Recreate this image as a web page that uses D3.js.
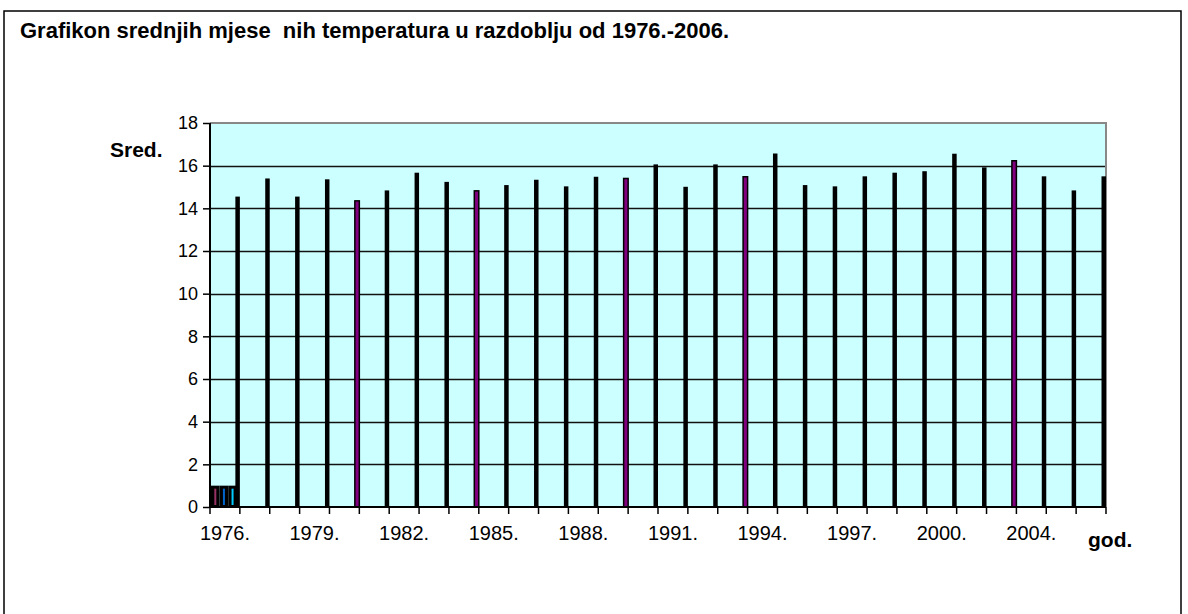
<!DOCTYPE html>
<html>
<head>
<meta charset="utf-8">
<script src="https://cdn.jsdelivr.net/npm/d3@7"></script>
<style>
  html, body { margin: 0; padding: 0; background: #fff; }
  svg { display: block; font-family: "Liberation Sans", Arial, sans-serif; }
</style>
</head>
<body>
<svg id="chart" width="1188" height="614"></svg>
<script>
// ---- data ----
const years = ["1976","1977","1978","1979","1980","1981","1982","1983","1984","1985",
               "1986","1987","1988","1989","1990","1991","1992","1993","1994","1995",
               "1996","1997","1998","1999","2000","2002","2003","2004","2005","2006"];
const meanTemps = [14.55, 15.4, 14.55, 15.36, 14.35, 14.84, 15.67, 15.24, 14.82, 15.09,
                   15.34, 15.03, 15.48, 15.4, 16.06, 15.01, 16.06, 15.48, 16.57, 15.09,
                   15.03, 15.5, 15.67, 15.74, 16.56, 15.92, 16.23, 15.5, 14.84, 15.5];
const highlightYears = ["1980","1984","1989","1993","2003"];
const firstGroupValues = [1, 1, 1];
const firstGroupColors = ["#993366", "#0066cc", "#00ccff"];
const yTicks = [0, 2, 4, 6, 8, 10, 12, 14, 16, 18];
const xLabelYears = ["1976","1979","1982","1985","1988","1991","1994","1997","2000","2004"];
const titleText = "Grafikon srednjih mjese  nih temperatura u razdoblju od 1976.-2006.";

// ---- layout ----
const svg = d3.select("#chart");
const pLeft = 210, pRight = 1106, pTop = 123, pBottom = 507;

// outer border
svg.append("rect").attr("x", 4).attr("y", 11).attr("width", 1177).attr("height", 640)
  .attr("fill", "#fff").attr("stroke", "#000").attr("stroke-width", 1.5);

svg.append("text").attr("x", 20).attr("y", 38)
  .attr("font-size", 22).attr("font-weight", "bold")
  .style("white-space", "pre").attr("xml:space", "preserve")
  .text(titleText);

const x = d3.scaleBand().domain(years).range([pLeft, pRight]).padding(0);
const y = d3.scaleLinear().domain([0, 18]).range([pBottom, pTop]);

// plot background
svg.append("rect").attr("x", pLeft).attr("y", pTop).attr("width", pRight - pLeft).attr("height", pBottom - pTop)
  .attr("fill", "#ccffff");

// gridlines
svg.append("g").selectAll("line").data(yTicks.filter(d => d > 0 && d < 18)).join("line")
  .attr("x1", pLeft).attr("x2", pRight)
  .attr("y1", d => Math.round(y(d)) + 0.5).attr("y2", d => Math.round(y(d)) + 0.5)
  .attr("stroke", "#111").attr("stroke-width", 1.6);

// plot border top/right (gray)
svg.append("line").attr("x1", pLeft).attr("x2", pRight + 1).attr("y1", pTop).attr("y2", pTop)
  .attr("stroke", "#888").attr("stroke-width", 2);
svg.append("line").attr("x1", pRight).attr("x2", pRight).attr("y1", pTop).attr("y2", pBottom)
  .attr("stroke", "#888").attr("stroke-width", 2);

// first-category small bars
const firstBand = d3.scaleBand().domain(d3.range(firstGroupValues.length))
  .range([x(years[0]) + 1, x(years[0]) + x.bandwidth() - 3]).padding(0);
const fg = svg.append("g");
fg.selectAll("rect").data(firstGroupValues).join("rect")
  .attr("x", (d, i) => firstBand(i)).attr("width", firstBand.bandwidth())
  .attr("y", d => y(d)).attr("height", d => y(0) - y(d))
  .attr("fill", "#000");
fg.selectAll("line").data(firstGroupValues).join("line")
  .attr("x1", (d, i) => firstBand(i) + firstBand.bandwidth() / 2)
  .attr("x2", (d, i) => firstBand(i) + firstBand.bandwidth() / 2)
  .attr("y1", d => y(d) + 3).attr("y2", y(0) - 2)
  .attr("stroke", (d, i) => firstGroupColors[i]).attr("stroke-width", 2);

// main bars (right edge of each category)
const barW = 4.5;
svg.append("g").selectAll("rect").data(years).join("rect")
  .attr("x", d => x(d) + x.bandwidth() - barW)
  .attr("width", barW)
  .attr("y", (d, i) => y(meanTemps[i]))
  .attr("height", (d, i) => y(0) - y(meanTemps[i]))
  .attr("fill", d => highlightYears.includes(d) ? "#800080" : "#000")
  .attr("stroke", "#000").attr("stroke-width", d => highlightYears.includes(d) ? 1.5 : 0);

// y axis
const yAxis = d3.axisLeft(y).tickValues(yTicks).tickSize(7).tickPadding(5).tickFormat(d3.format("d"));
const ya = svg.append("g").attr("transform", `translate(${pLeft},0)`).call(yAxis);
ya.select(".domain").attr("stroke", "#000").attr("stroke-width", 2).attr("d", `M0,${pTop}V${pBottom}`);
ya.selectAll(".tick line").attr("stroke", "#000").attr("stroke-width", 1.5);
ya.selectAll(".tick text").attr("font-size", 18).attr("font-family", "Liberation Sans, Arial, sans-serif").attr("fill", "#000");

// x axis
const boundaries = years.map(d => x(d)).concat([pRight]);
const xa = svg.append("g");
xa.append("line").attr("x1", pLeft).attr("x2", pRight).attr("y1", pBottom).attr("y2", pBottom)
  .attr("stroke", "#000").attr("stroke-width", 2);
xa.selectAll("line.t").data(boundaries).join("line").attr("class", "t")
  .attr("x1", d => d).attr("x2", d => d).attr("y1", pBottom).attr("y2", pBottom + 7)
  .attr("stroke", "#000").attr("stroke-width", 1.5);
xa.selectAll("text").data(xLabelYears).join("text")
  .attr("x", d => x(d) + x.bandwidth() / 2).attr("y", 540)
  .attr("text-anchor", "middle").attr("font-size", 20).text(d => d + ".");

// axis titles
svg.append("text").attr("x", 110).attr("y", 157).attr("font-size", 21).attr("font-weight", "bold").text("Sred.");
svg.append("text").attr("x", 1088).attr("y", 547).attr("font-size", 21).attr("font-weight", "bold").text("god.");
</script>
</body>
</html>
